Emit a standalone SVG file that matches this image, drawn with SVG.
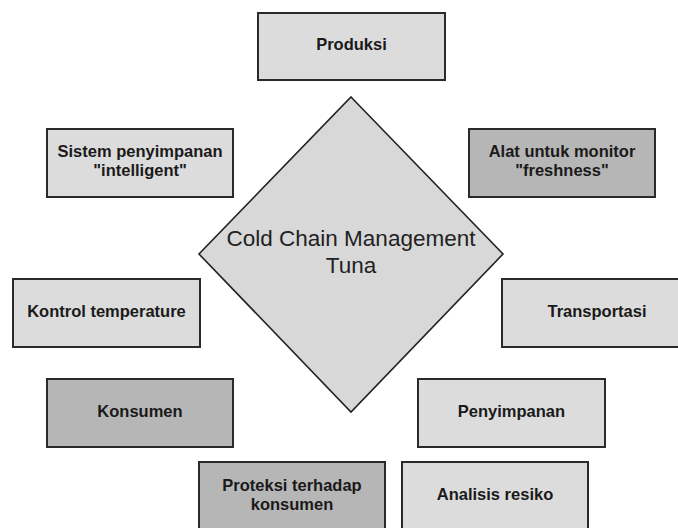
<svg xmlns="http://www.w3.org/2000/svg" width="678" height="528" viewBox="0 0 678 528">
<style>
.box{stroke:#2a2a2a;stroke-width:2}
.light{fill:#dcdcdc}
.dark{fill:#b6b6b6}
.lbl{font-family:"Liberation Sans",Arial,sans-serif;font-weight:bold;font-size:16.5px;fill:#1a1a1a;text-anchor:middle}
.big{font-family:"Liberation Sans",Arial,sans-serif;font-size:22.5px;fill:#222;text-anchor:middle}
</style>
<rect width="678" height="528" fill="#fff"/>
<g id="connectors"></g>
<g id="center">
<polygon points="351,97 503,254 351,412 199,254" fill="#d8d8d8" stroke="#222" stroke-width="1.6"/>
<text class="big" x="351" y="246">Cold Chain Management</text>
<text class="big" x="351" y="273">Tuna</text>
</g>
<g id="produksi">
<rect class="box light" x="258" y="13" width="187" height="67"/>
<text class="lbl" x="351.5" y="50">Produksi</text>
</g>
<g id="sistem">
<rect class="box light" x="47" y="129" width="186" height="68"/>
<text class="lbl" x="140" y="157">Sistem penyimpanan</text>
<text class="lbl" x="140" y="176">"intelligent"</text>
</g>
<g id="alat">
<rect class="box dark" x="469" y="129" width="186" height="68"/>
<text class="lbl" x="562" y="157">Alat untuk monitor</text>
<text class="lbl" x="562" y="176">"freshness"</text>
</g>
<g id="kontrol">
<rect class="box light" x="13" y="279" width="187" height="68"/>
<text class="lbl" x="106.5" y="317">Kontrol temperature</text>
</g>
<g id="transportasi">
<rect class="box light" x="502" y="279" width="190" height="68"/>
<text class="lbl" x="597" y="317">Transportasi</text>
</g>
<g id="konsumen">
<rect class="box dark" x="47" y="379" width="186" height="68"/>
<text class="lbl" x="140" y="417">Konsumen</text>
</g>
<g id="penyimpanan">
<rect class="box light" x="418" y="379" width="187" height="68"/>
<text class="lbl" x="511.5" y="417">Penyimpanan</text>
</g>
<g id="proteksi">
<rect class="box dark" x="199" y="462" width="186" height="70"/>
<text class="lbl" x="292" y="491">Proteksi terhadap</text>
<text class="lbl" x="292" y="510">konsumen</text>
</g>
<g id="analisis">
<rect class="box light" x="402" y="462" width="186" height="70"/>
<text class="lbl" x="495" y="500">Analisis resiko</text>
</g>
</svg>
